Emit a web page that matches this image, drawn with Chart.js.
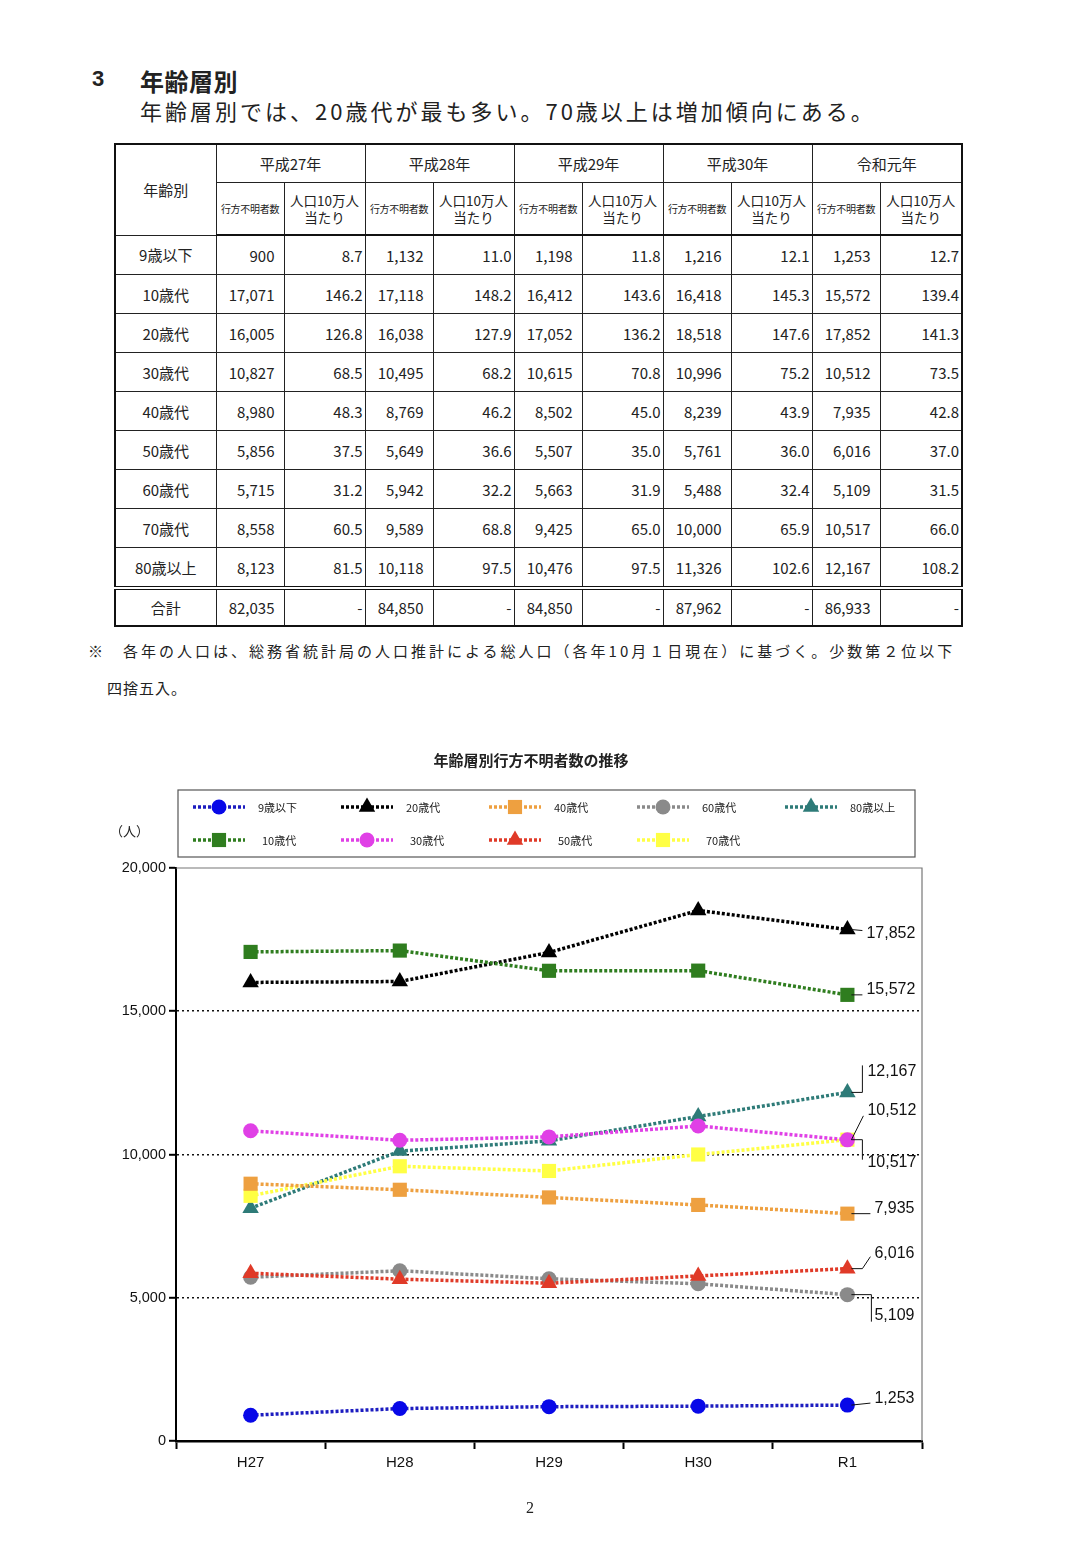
<!DOCTYPE html>
<html lang="ja">
<head>
<meta charset="UTF-8" />
<title>年齢層別行方不明者数の推移</title>
<script src="https://cdn.jsdelivr.net/npm/chart.js"></script>
<style>
  body { margin: 0; background: #fff; width: 1066px; height: 1548px; position: relative;
         font-family: "Noto Sans CJK JP", sans-serif; color: #222; }
  .abs { position: absolute; }
  #h-num { left: 92px; top: 66px; font: bold 22px "Liberation Sans", sans-serif; }
  #h-title { left: 140px; top: 63px; font-size: 24px; font-weight: bold; letter-spacing: 0.5px; }
  #h-lead { left: 140px; top: 94px; font-size: 22px; letter-spacing: 3px; }
  table { position: absolute; left: 114px; top: 143px; border-collapse: collapse;
          border: 2px solid #111; table-layout: fixed; }
  td, th { border: 1px solid #222; padding: 0; font-weight: normal; font-size: 15px; }
  th { text-align: center; }
  tr.h1 th { height: 37px; }
  tr.h2 th { height: 51px; border-bottom: 2px solid #111; }
  th.small { font-size: 10px; letter-spacing: -0.3px; }
  th.mid { font-size: 13.5px; line-height: 17px; }
  tr.d td { height: 38px; }
  td.age { text-align: center; }
  td.cnt { text-align: right; padding-right: 9px; }
  td.rate { text-align: right; padding-right: 2px; }
  tr.total td { border-top: 4px double #111; height: 35px; }
  #note1 { left: 88px; top: 640px; font-size: 15px; letter-spacing: 3px; white-space: nowrap; }
  #note2 { left: 107px; top: 677px; font-size: 15px; letter-spacing: 1px; }
  #chartWrap { left: 0; top: 740px; width: 1066px; height: 760px; }
  #page { left: 526px; top: 1499px; font: 16px "Liberation Serif", serif; }
</style>
</head>
<body>
<div id="h-num" class="abs">3</div>
<div id="h-title" class="abs">年齢層別</div>
<div id="h-lead" class="abs">年齢層別では、20歳代が最も多い。70歳以上は増加傾向にある。</div>

<table id="tbl">
  <colgroup id="cols"></colgroup>
  <thead>
    <tr class="h1" id="rowYears"><th rowspan="2">年齢別</th></tr>
    <tr class="h2" id="rowSub"></tr>
  </thead>
  <tbody id="tbody"></tbody>
</table>

<div id="note1" class="abs">※<span style="margin-left:17px">各年の人口は、総務省統計局の人口推計による総人口（各年10月１日現在）に基づく。少数第２位以下</span></div>
<div id="note2" class="abs">四捨五入。</div>

<div id="chartWrap" class="abs"><canvas id="ageChart"></canvas></div>
<div id="page" class="abs">2</div>

<script>
// ---- データ ----
const years = ['H27', 'H28', 'H29', 'H30', 'R1'];
const tableYears = ['平成27年', '平成28年', '平成29年', '平成30年', '令和元年'];
const ageGroups = ['9歳以下', '10歳代', '20歳代', '30歳代', '40歳代', '50歳代', '60歳代', '70歳代', '80歳以上'];

// 行方不明者数
const count9under = [900, 1132, 1198, 1216, 1253];
const count10s = [17071, 17118, 16412, 16418, 15572];
const count20s = [16005, 16038, 17052, 18518, 17852];
const count30s = [10827, 10495, 10615, 10996, 10512];
const count40s = [8980, 8769, 8502, 8239, 7935];
const count50s = [5856, 5649, 5507, 5761, 6016];
const count60s = [5715, 5942, 5663, 5488, 5109];
const count70s = [8558, 9589, 9425, 10000, 10517];
const count80over = [8123, 10118, 10476, 11326, 12167];
const countTotal = [82035, 84850, 84850, 87962, 86933];

// 人口10万人当たり
const rate9under = [8.7, 11.0, 11.8, 12.1, 12.7];
const rate10s = [146.2, 148.2, 143.6, 145.3, 139.4];
const rate20s = [126.8, 127.9, 136.2, 147.6, 141.3];
const rate30s = [68.5, 68.2, 70.8, 75.2, 73.5];
const rate40s = [48.3, 46.2, 45.0, 43.9, 42.8];
const rate50s = [37.5, 36.6, 35.0, 36.0, 37.0];
const rate60s = [31.2, 32.2, 31.9, 32.4, 31.5];
const rate70s = [60.5, 68.8, 65.0, 65.9, 66.0];
const rate80over = [81.5, 97.5, 97.5, 102.6, 108.2];

const counts = [count9under, count10s, count20s, count30s, count40s, count50s, count60s, count70s, count80over];
const rates = [rate9under, rate10s, rate20s, rate30s, rate40s, rate50s, rate60s, rate70s, rate80over];

const yTicks = [0, 5000, 10000, 15000, 20000];

// ---- 表 ----
const fmt = (v) => v.toLocaleString('en-US');
const colWidths = [101, 68, 81, 68, 81, 68, 81, 68, 81, 68, 82];
const cols = document.getElementById('cols');
colWidths.forEach((w) => {
  const c = document.createElement('col');
  c.style.width = w + 'px';
  cols.appendChild(c);
});
const rowYears = document.getElementById('rowYears');
const rowSub = document.getElementById('rowSub');
tableYears.forEach((y) => {
  rowYears.insertAdjacentHTML('beforeend', `<th colspan="2">${y}</th>`);
  rowSub.insertAdjacentHTML('beforeend',
    '<th class="small">行方不明者数</th><th class="mid">人口10万人<br>当たり</th>');
});
const tbody = document.getElementById('tbody');
ageGroups.forEach((g, i) => {
  let html = `<tr class="d"><td class="age">${g}</td>`;
  counts[i].forEach((v, j) => {
    html += `<td class="cnt">${fmt(v)}</td><td class="rate">${rates[i][j].toFixed(1)}</td>`;
  });
  tbody.insertAdjacentHTML('beforeend', html + '</tr>');
});
let totalHtml = '<tr class="d total"><td class="age">合計</td>';
countTotal.forEach((v) => { totalHtml += `<td class="cnt">${fmt(v)}</td><td class="rate">-</td>`; });
tbody.insertAdjacentHTML('beforeend', totalHtml + '</tr>');

// ---- グラフ ----
const lineColors = ['#1c1cc0', '#2f7d1f', '#000000', '#e040e6', '#eea040', '#e03a28', '#8a8a8a', '#ffff44', '#2e7b78'];
const markColors = ['#0808e8', '#2f7d1f', '#000000', '#e040e6', '#eea040', '#e03a28', '#8a8a8a', '#ffff44', '#2e7b78'];
const markStyles = ['circle', 'rect', 'triangle', 'circle', 'rect', 'triangle', 'circle', 'rect', 'triangle'];
const markRadius = { circle: 7.5, rect: 10, triangle: 9.5 };

// 右端の数値ラベル（系列番号、文字位置のずれ、引出線の形）
const endLabels = [
  { ds: 2, dx: 19, dy: 4, kind: 'flat' },
  { ds: 1, dx: 19, dy: -5, kind: 'diag' },
  { ds: 8, dx: 20, dy: -21, kind: 'elbow', vy: -6 },
  { ds: 3, dx: 20, dy: -29, kind: 'diag' },
  { ds: 7, dx: 20, dy: 23, kind: 'elbow', vy: -3 },
  { ds: 4, dx: 27, dy: -5, kind: 'diag' },
  { ds: 5, dx: 27, dy: -15, kind: 'bend' },
  { ds: 6, dx: 27, dy: 21, kind: 'elbow', vy: 6, ex: 24 },
  { ds: 0, dx: 27, dy: -7, kind: 'diag' }
];

const datasets = ageGroups.map((g, i) => ({
  label: g,
  data: counts[i],
  borderColor: lineColors[i],
  backgroundColor: markColors[i],
  borderWidth: 3.5,
  borderDash: [3, 2],
  borderCapStyle: 'butt',
  pointStyle: markStyles[i],
  pointRadius: markRadius[markStyles[i]],
  pointBorderWidth: 0,
  pointBackgroundColor: markColors[i],
  tension: 0
}));

const frameAndLegend = {
  id: 'frameAndLegend',
  afterDraw(chart) {
    const { ctx, chartArea: a } = chart;
    ctx.save();
    // 枠（上・右）
    ctx.strokeStyle = '#777';
    ctx.lineWidth = 1.2;
    ctx.beginPath();
    ctx.moveTo(a.left, a.top);
    ctx.lineTo(a.right, a.top);
    ctx.lineTo(a.right, a.bottom);
    ctx.stroke();

    // タイトル
    ctx.fillStyle = '#222';
    ctx.textAlign = 'center';
    ctx.textBaseline = 'middle';
    ctx.font = 'bold 15px "Noto Sans CJK JP", sans-serif';
    ctx.fillText('年齢層別行方不明者数の推移', (a.left + a.right) / 2 - 18, a.top - 108);

    // 単位
    ctx.font = '13px "Noto Sans CJK JP", sans-serif';
    ctx.textAlign = 'left';
    ctx.fillText('（人）', a.left - 66, a.top - 37);

    // 凡例
    const bx = a.left + 2, by = a.top - 78, bw = a.width - 9, bh = 67;
    ctx.strokeStyle = '#555';
    ctx.lineWidth = 1.2;
    ctx.strokeRect(bx, by, bw, bh);
    ctx.font = '11px "Noto Sans CJK JP", sans-serif';
    chart.data.datasets.forEach((ds, i) => {
      const col = Math.floor(i / 2), row = i % 2;
      const x = bx + 15 + col * 148;
      const y = by + 17 + row * 33;
      ctx.save();
      ctx.strokeStyle = ds.borderColor;
      ctx.lineWidth = 3.5;
      ctx.setLineDash([3, 2]);
      ctx.beginPath();
      ctx.moveTo(x, y);
      ctx.lineTo(x + 52, y);
      ctx.stroke();
      ctx.restore();
      ctx.fillStyle = ds.backgroundColor;
      Chart.helpers.drawPoint(ctx, { pointStyle: ds.pointStyle, radius: ds.pointRadius, borderWidth: 0, rotation: 0 }, x + 26, y);
      ctx.fillStyle = '#222';
      ctx.fillText(ds.label, x + 65 + (row ? 4 : 0), y + 1);
    });
    ctx.restore();
  }
};

const endLabelPlugin = {
  id: 'endLabels',
  afterDatasetsDraw(chart) {
    const ctx = chart.ctx;
    ctx.save();
    ctx.font = '16px "Liberation Sans", Arial, sans-serif';
    ctx.fillStyle = '#111';
    ctx.strokeStyle = '#111';
    ctx.lineWidth = 1;
    ctx.textBaseline = 'middle';
    ctx.textAlign = 'left';
    endLabels.forEach((l) => {
      const meta = chart.getDatasetMeta(l.ds);
      const last = meta.data.length - 1;
      const pt = meta.data[last];
      const val = chart.data.datasets[l.ds].data[last];
      const tx = pt.x + l.dx, ty = pt.y + l.dy;
      ctx.beginPath();
      ctx.moveTo(pt.x + 4, pt.y);
      if (l.kind === 'elbow') {
        const ex = l.ex || 15;
        ctx.lineTo(pt.x + ex, pt.y);
        ctx.lineTo(pt.x + ex, ty + l.vy);
      } else if (l.kind === 'bend') {
        ctx.lineTo(pt.x + 15, pt.y);
        ctx.lineTo(tx - 4, ty + 3);
      } else if (l.kind === 'flat') {
        ctx.lineTo(tx - 4, pt.y + 1);
      } else {
        ctx.lineTo(tx - 4, ty + 5);
      }
      ctx.stroke();
      ctx.fillText(fmt(val), tx, ty);
    });
    ctx.restore();
  }
};

new Chart(document.getElementById('ageChart').getContext('2d'), {
  type: 'line',
  data: { labels: years, datasets: datasets },
  options: {
    responsive: true,
    maintainAspectRatio: false,
    animation: false,
    layout: { padding: { left: 100, right: 144, top: 128, bottom: 19 } },
    plugins: { legend: { display: false }, tooltip: { enabled: false }, title: { display: false } },
    scales: {
      x: {
        type: 'category',
        offset: true,
        grid: { offset: true, drawOnChartArea: false, color: '#000', tickLength: 8, tickWidth: 2 },
        border: { color: '#000', width: 2.5 },
        ticks: { color: '#111', padding: 5, font: { family: '"Liberation Sans", Arial, sans-serif', size: 15 } },
        afterFit: (s) => { s.height = 40; }
      },
      y: {
        min: 0,
        max: 20000,
        afterBuildTicks: (s) => { s.ticks = yTicks.map((v) => ({ value: v })); },
        grid: {
          color: (c) => (c.tick && (c.tick.value === 0 || c.tick.value === 20000)) ? 'rgba(0,0,0,0)' : '#111',
          lineWidth: 1.6,
          tickColor: '#000',
          tickLength: 7,
          tickWidth: 2
        },
        border: { color: '#000', width: 2, dash: [2, 3] },
        ticks: { color: '#111', padding: 3, font: { family: '"Liberation Sans", Arial, sans-serif', size: 14.5 },
                 callback: (v) => fmt(v) },
        afterFit: (s) => { s.width = 76; }
      }
    }
  },
  plugins: [frameAndLegend, endLabelPlugin]
});
</script>
</body>
</html>
